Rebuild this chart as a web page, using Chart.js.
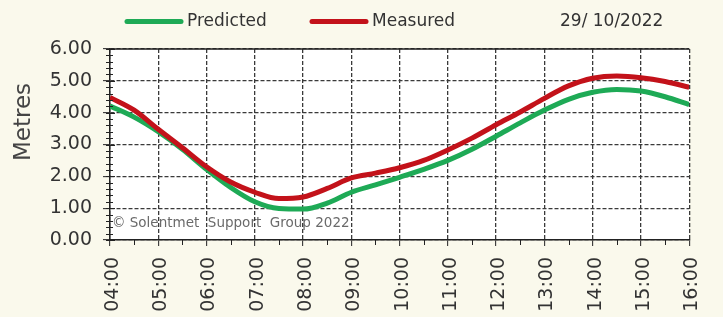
<!DOCTYPE html>
<html>
<head>
<meta charset="utf-8">
<script src="https://cdn.jsdelivr.net/npm/chart.js@4.4.0/dist/chart.umd.min.js"></script>
<style>
  html, body { margin: 0; padding: 0; background: #faf9ec; }
  #wrap { width: 723px; height: 317px; }
</style>
</head>
<body>
<div id="wrap"><canvas id="tideChart" width="723" height="317"></canvas></div>
<script>
// half-hourly readings, 04:00 -> 16:00 (metres)
const hours = [4, 4.5, 5, 5.5, 6, 6.5, 7, 7.5, 8, 8.5, 9, 9.5, 10, 10.5, 11, 11.5, 12, 12.5, 13, 13.5, 14, 14.5, 15, 15.5, 16];
const predicted = [4.21, 3.86, 3.40, 2.85, 2.22, 1.65, 1.20, 0.99, 0.97, 1.16, 1.50, 1.73, 1.97, 2.22, 2.50, 2.85, 3.26, 3.68, 4.08, 4.42, 4.64, 4.73, 4.68, 4.50, 4.25];
const measured = [4.48, 4.08, 3.48, 2.90, 2.30, 1.82, 1.50, 1.30, 1.35, 1.62, 1.95, 2.10, 2.27, 2.50, 2.83, 3.20, 3.62, 4.02, 4.45, 4.84, 5.08, 5.15, 5.10, 4.98, 4.80];
const hourLabels = ['04:00', '05:00', '06:00', '07:00', '08:00', '09:00', '10:00', '11:00', '12:00', '13:00', '14:00', '15:00', '16:00'];
const yTickLabels = ['0.00', '1.00', '2.00', '3.00', '4.00', '5.00', '6.00'];
const seriesNames = ['Predicted', 'Measured'];
const chartDate = '29/ 10/2022';
const credit = '\u00a9 Solentmet  Support  Group 2022';

const FONT = '"DejaVu Sans", Verdana, sans-serif';
const GREEN = '#1eaa56';
const RED = '#c3121a';

// bits Chart.js doesn't draw itself: white plot, legend, date, minor ticks
const decor = {
  id: 'decor',
  beforeDraw(chart) {
    const {ctx, chartArea: a} = chart;
    ctx.save();
    ctx.fillStyle = '#ffffff';
    ctx.fillRect(a.left, a.top, a.right - a.left, a.bottom - a.top);
    ctx.fillStyle = '#6a6a6a';
    ctx.font = '13.5px ' + FONT;
    ctx.textBaseline = 'middle';
    ctx.fillText(credit, a.left + 2, 223);
    ctx.restore();
  },
  afterDraw(chart) {
    const {ctx, chartArea: a, scales: {x, y}} = chart;
    ctx.save();
    ctx.strokeStyle = '#222';
    ctx.lineWidth = 1;

    // top edge
    ctx.lineWidth = 1.5;
    ctx.beginPath();
    ctx.moveTo(a.left, a.top);
    ctx.lineTo(a.right, a.top);
    ctx.stroke();

    // y minor ticks
    ctx.lineWidth = 1;
    for (let v = 0; v <= 6.001; v += 0.2) {
      const py = Math.round(y.getPixelForValue(v)) + 0.5;
      const major = Math.abs(v - Math.round(v)) < 0.01;
      ctx.beginPath();
      ctx.moveTo(a.left - 4, py);
      ctx.lineTo(a.left + (major ? 5 : 3), py);
      ctx.stroke();
    }
    // x minor ticks at the half hour
    for (let h = 4.5; h < 16; h += 1) {
      const px = Math.round(x.getPixelForValue(h)) + 0.5;
      ctx.beginPath();
      ctx.moveTo(px, a.bottom);
      ctx.lineTo(px, a.bottom + 5);
      ctx.stroke();
    }

    // legend
    const spots = [127, 312];
    chart.data.datasets.forEach((ds, i) => {
      const x0 = spots[i];
      ctx.strokeStyle = ds.borderColor;
      ctx.lineWidth = 5;
      ctx.lineCap = 'round';
      ctx.beginPath();
      ctx.moveTo(x0, 21.5);
      ctx.lineTo(x0 + 54, 21.5);
      ctx.stroke();
      ctx.fillStyle = '#333';
      ctx.font = '17px ' + FONT;
      ctx.textBaseline = 'middle';
      ctx.fillText(ds.label, x0 + 60, 22);
    });
    ctx.fillText(chartDate, 560, 22);

    // axis title
    ctx.translate(24, 122);
    ctx.rotate(-Math.PI / 2);
    ctx.font = '23px ' + FONT;
    ctx.fillStyle = '#444';
    ctx.textAlign = 'center';
    ctx.textBaseline = 'middle';
    ctx.fillText('Metres', 0, 0);
    ctx.restore();
  }
};

const gridStyle = {
  color: '#3a3a3a',
  lineWidth: 1.3,
  tickColor: '#222',
  tickWidth: 1
};

new Chart(document.getElementById('tideChart'), {
  type: 'line',
  data: {
    datasets: [
      {
        label: seriesNames[0],
        data: hours.map((h, i) => ({x: h, y: predicted[i]})),
        borderColor: GREEN,
        borderWidth: 5,
        pointRadius: 0,
        cubicInterpolationMode: 'monotone',
        order: 1
      },
      {
        label: seriesNames[1],
        data: hours.map((h, i) => ({x: h, y: measured[i]})),
        borderColor: RED,
        borderWidth: 5,
        pointRadius: 0,
        cubicInterpolationMode: 'monotone',
        order: 0
      }
    ]
  },
  options: {
    responsive: false,
    animation: false,
    events: [],
    layout: { padding: { top: 49, right: 11, left: 0, bottom: 0 } },
    plugins: {
      legend: { display: false },
      tooltip: { enabled: false }
    },
    scales: {
      x: {
        type: 'linear',
        min: 4,
        max: 16,
        afterFit: (s) => { s.height = 77; },
        grid: Object.assign({ tickLength: 6 }, gridStyle),
        border: { color: '#222', width: 1.5, dash: [4, 2] },
        ticks: {
          stepSize: 1,
          autoSkip: false,
          minRotation: 90,
          maxRotation: 90,
          padding: 11,
          labelOffset: 3,
          color: '#333',
          font: { family: FONT, size: 19 },
          callback: (v) => hourLabels[v - 4]
        }
      },
      y: {
        min: 0,
        max: 6,
        afterFit: (s) => { s.width = 110; },
        grid: Object.assign({ tickLength: 7 }, gridStyle),
        border: { color: '#222', width: 1.5, dash: [4, 2] },
        ticks: {
          stepSize: 1,
          padding: 11,
          color: '#333',
          font: { family: FONT, size: 19 },
          callback: (v) => yTickLabels[v]
        }
      }
    }
  },
  plugins: [decor]
});
</script>
</body>
</html>
